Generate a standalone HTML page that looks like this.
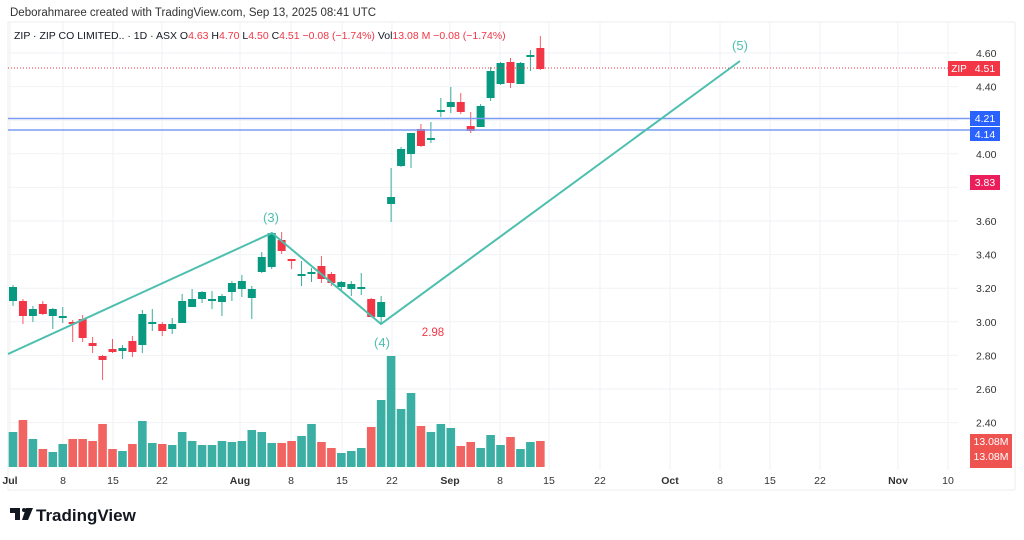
<!DOCTYPE html>
<html><head><meta charset="utf-8"><style>
html,body{margin:0;padding:0;background:#fff;width:1024px;height:540px;overflow:hidden}
svg{display:block;font-family:"Liberation Sans",sans-serif}
</style></head><body>
<svg id="s" width="1024" height="540" viewBox="0 0 1024 540" xmlns="http://www.w3.org/2000/svg">
<rect width="1024" height="540" fill="#fff"/>
<text x="10" y="16" font-size="11.5" fill="#333">Deborahmaree created with TradingView.com, Sep 13, 2025 08:41 UTC</text>
<line x1="8" y1="22" x2="1015" y2="22" stroke="#eee"/>
<line x1="8" y1="22" x2="8" y2="490" stroke="#eee"/>
<line x1="1015" y1="22" x2="1015" y2="490" stroke="#eee"/>
<line x1="8" y1="490" x2="1015" y2="490" stroke="#eee"/>
<g id="grid"></g>
<g id="vol"></g>
<g id="cdl"></g>
<line x1="8" y1="68" x2="948" y2="68" stroke="#f23645" stroke-dasharray="1,2" stroke-width="1"/>
<line x1="8" y1="118.5" x2="1000" y2="118.5" stroke="#7b9cf5" stroke-width="1.5"/>
<line x1="8" y1="130" x2="1000" y2="130" stroke="#7b9cf5" stroke-width="1.5"/>
<polyline points="8,354 272,233 381,324 740,61" fill="none" stroke="#4dbfae" stroke-width="2"/>
<text x="271" y="222" font-size="13" fill="#4dbfae" text-anchor="middle">(3)</text>
<text x="382" y="347" font-size="13" fill="#4dbfae" text-anchor="middle">(4)</text>
<text x="740" y="50" font-size="13" fill="#4dbfae" text-anchor="middle">(5)</text>
<text x="433" y="336" font-size="11.5" fill="#f23645" text-anchor="middle">2.98</text>
<text x="14" y="39" font-size="10.5" fill="#131722">ZIP · ZIP CO LIMITED.. · 1D · ASX  <tspan>O</tspan><tspan fill="#f23645">4.63</tspan>  H<tspan fill="#f23645">4.70</tspan>  L<tspan fill="#f23645">4.50</tspan>  C<tspan fill="#f23645">4.51</tspan>  <tspan fill="#f23645">−0.08 (−1.74%)</tspan>  Vol<tspan fill="#f23645">13.08 M</tspan>  <tspan fill="#f23645">−0.08 (−1.74%)</tspan></text>
<g id="ax" font-size="10.5" fill="#333"></g>
<rect x="948" y="61" width="22" height="15" fill="#f23645"/>
<text x="959" y="72" font-size="10" fill="#fff" text-anchor="middle">ZIP</text>
<rect x="970" y="61" width="30" height="15" fill="#f23645"/>
<text x="985" y="72" font-size="10.5" fill="#fff" text-anchor="middle">4.51</text>
<rect x="970" y="111" width="30" height="15" fill="#2962ff"/>
<text x="985" y="122" font-size="10.5" fill="#fff" text-anchor="middle">4.21</text>
<rect x="970" y="127" width="30" height="14" fill="#2962ff"/>
<text x="985" y="138" font-size="10.5" fill="#fff" text-anchor="middle">4.14</text>
<rect x="970" y="175" width="30" height="15" fill="#e91e5a"/>
<text x="985" y="186" font-size="10.5" fill="#fff" text-anchor="middle">3.83</text>
<rect x="970" y="434" width="42" height="15" fill="#ef5350"/>
<text x="991" y="445" font-size="10.5" fill="#fff" text-anchor="middle">13.08M</text>
<rect x="970" y="449" width="42" height="15" fill="#ef5350"/>
<text x="991" y="460" font-size="10.5" fill="#fff" text-anchor="middle">13.08M</text>
<rect x="970" y="464" width="42" height="4" fill="#ef5350"/>
<g transform="translate(10,508)">
<path d="M0 0h10v12h-5v-7h-5z" fill="#131722"/>
<rect x="12" y="0" width="4" height="4" rx="2" fill="#131722"/>
<path d="M16 0h7l-5 12h-6z" fill="#131722"/>
</g>
<text x="36" y="521" font-size="17" font-weight="bold" fill="#131722">TradingView</text>
</svg>
<script>
var NS="http://www.w3.org/2000/svg";
function el(p,t,a,txt){var e=document.createElementNS(NS,t);for(var k in a)e.setAttribute(k,a[k]);if(txt!=null)e.textContent=txt;document.getElementById(p).appendChild(e);return e;}
var prices=["4.60","4.40","4.20","4.00","3.80","3.60","3.40","3.20","3.00","2.80","2.60","2.40"];
for(var i=0;i<prices.length;i++){var y=53+i*33.6;el("grid","line",{x1:8,y1:y,x2:958,y2:y,stroke:"#f0f2f6"});
 if(prices[i]!="4.20"&&prices[i]!="3.80")el("ax","text",{x:976,y:y+4},prices[i]);}
var dates=[[10,"Jul",1],[63,"8"],[113,"15"],[162,"22"],[240,"Aug",1],[291,"8"],[342,"15"],[392,"22"],[450,"Sep",1],[500,"8"],[549,"15"],[600,"22"],[670,"Oct",1],[720,"8"],[770,"15"],[820,"22"],[898,"Nov",1],[948,"10"]];
dates.forEach(function(d){el("grid","line",{x1:d[0],y1:22,x2:d[0],y2:470,stroke:"#f0f2f6"});
 var t=el("ax","text",{x:d[0],y:484,"text-anchor":"middle"},d[1]);if(d[2])t.setAttribute("font-weight","bold");});
var G="#26a69a",R="#ef5350";
var vol=[[G,432],[R,420],[G,439],[R,449],[G,452],[G,444],[R,439],[R,439],[R,441],[R,424],[R,449],[G,451],[R,444],[G,421],[G,443],[R,444],[G,445],[G,432],[G,441],[G,445],[G,445],[G,441],[G,442],[G,441],[G,430],[G,432],[G,443],[R,443],[R,441],[G,436],[G,424],[R,442],[R,448],[G,453],[G,451],[G,448],[R,427],[G,400],[G,356],[G,409],[G,393],[R,426],[G,432],[G,424],[G,428],[R,446],[R,442],[G,448],[G,435],[G,445],[R,437],[G,449],[G,442],[R,441]];
for(var i=0;i<vol.length;i++){var x=13+i*9.95;el("vol","rect",{x:x-4.3,y:vol[i][1],width:8.6,height:467-vol[i][1],fill:vol[i][0],opacity:0.9});}
var CG="#089981",CR="#f23645";
var c=[[12,285,306,287,301,1],[21,299,324,301,316,0],[31,306,322,309,316,1],[40,301,315,304,314,0],[49,308,329,309,316,1],[58,307,323,316,318,1],[68,320,342,322,324,0],[77,315,342,319,338,0],[87,337,353,343,346,0],[96,355,380,356,360,0],[105,339,353,349,352,0],[114,345,359,348,351,1],[124,336,357,341,352,0],[133,310,353,314,345,1],[142,309,331,322,324,1],[151,322,336,324,331,0],[161,318,334,324,329,1],[170,294,323,301,323,1],[179,289,307,299,307,1],[189,291,303,292,299,1],[198,291,309,299,301,1],[207,294,316,296,302,1],[217,281,301,283,292,1],[226,275,297,281,289,1],[235,286,319,289,298,1],[244,252,273,257,272,1],[253,232,269,233,267,1],[263,232,254,240,251,0],[272,259,269,259,261,0],[282,261,286,274,275,1],[291,268,282,272,273,1],[300,256,283,266,279,0],[309,272,286,274,283,0],[319,281,291,282,287,1],[328,281,296,284,289,1],[337,273,295,287,289,1],[347,298,317,299,317,0],[356,296,324,302,317,1],
[391,168,222,197,204,1],[401,147,167,149,166,1],[411,133,168,133,154,1],[421,124,147,129,146,0],[431,122,143,138,140,1],[441,98,117,110,112,1],[451,87,113,102,107,1],[461,93,114,102,112,0],[471,112,133,126,131,0],[481,104,127,106,127,1],[491,67,101,71,98,1],[501,62,85,63,84,1],[511,58,88,62,83,0],[521,62,84,63,84,1],[531,50,71,55,57,1],[541,36,70,48,69,0]];
c.forEach(function(k,i){var x=13+i*9.95;var col=k[5]?CG:CR;
 el("cdl","line",{x1:x,y1:k[1],x2:x,y2:k[2],stroke:col,"stroke-width":1,opacity:0.8});
 el("cdl","rect",{x:x-4,y:k[3],width:8,height:Math.max(2,k[4]-k[3]),fill:col});});
</script>
</body></html>
